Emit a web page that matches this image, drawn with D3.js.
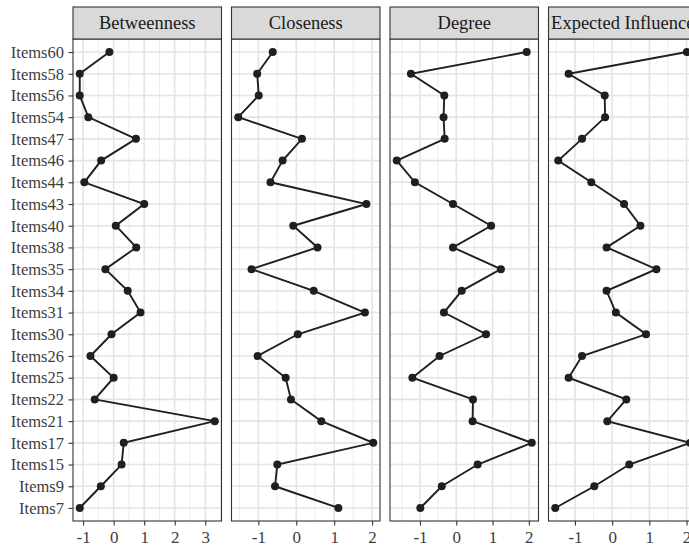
<!DOCTYPE html>
<html>
<head>
<meta charset="utf-8">
<script src="https://cdn.jsdelivr.net/npm/d3@7"></script>
<style>
  html, body { margin: 0; padding: 0; background: #fff; }
  svg { display: block; }
  text { font-family: "Liberation Serif", "DejaVu Serif", serif; }
</style>
</head>
<body>
<svg id="chart" width="689" height="547"></svg>
<script>
// Nodes, bottom to top as they appear on the y axis
const items = ["Items7", "Items9", "Items15", "Items17", "Items21", "Items22", "Items25",
  "Items26", "Items30", "Items31", "Items34", "Items35", "Items38", "Items40", "Items43",
  "Items44", "Items46", "Items47", "Items54", "Items56", "Items58", "Items60"];

const measures = ["Betweenness", "Closeness", "Degree", "Expected Influence"];

// Standardised centrality (z-scores), same order as items
const betweenness = [-1.11, -0.42, 0.26, 0.33, 3.31, -0.62, 0.00, -0.76, -0.07, 0.88, 0.46,
  -0.27, 0.74, 0.07, 1.00, -0.96, -0.41, 0.73, -0.83, -1.11, -1.11, -0.14];
const closeness = [1.11, -0.56, -0.50, 2.03, 0.66, -0.14, -0.28, -1.02, 0.04, 1.81, 0.46,
  -1.18, 0.56, -0.08, 1.85, -0.68, -0.36, 0.15, -1.53, -0.99, -1.03, -0.62];
const degree = [-0.99, -0.40, 0.59, 2.08, 0.45, 0.46, -1.21, -0.46, 0.82, -0.34, 0.15,
  1.23, -0.09, 0.96, -0.09, -1.14, -1.64, -0.32, -0.35, -0.33, -1.25, 1.94];
const expectedInfluence = [-1.53, -0.48, 0.46, 2.10, -0.13, 0.38, -1.17, -0.81, 0.91, 0.10,
  -0.15, 1.19, -0.15, 0.76, 0.32, -0.56, -1.45, -0.81, -0.19, -0.20, -1.17, 2.01];

const seriesValues = [betweenness, closeness, degree, expectedInfluence];

// Tick labels per facet
const xTicks = [[-1, 0, 1, 2, 3], [-1, 0, 1, 2], [-1, 0, 1, 2], [-1, 0, 1, 2]];

const svg = d3.select("#chart");

const panelLeft = 73, panelW = 148.5, panelGap = 10;
const panelTop = 39, panelBottom = 521, stripTop = 7;
const ink = "#1f1f1f", axisText = "#3d3d3d", frame = "#333";

const y = d3.scalePoint().domain(items).range([panelBottom, panelTop]).padding(0.6);

const defs = svg.append("defs");

measures.forEach((m, i) => {
  const x0 = panelLeft + i * (panelW + panelGap);
  const vals = seriesValues[i];
  const ext = d3.extent(vals);
  const pad = (ext[1] - ext[0]) * 0.05;
  const x = d3.scaleLinear().domain([ext[0] - pad, ext[1] + pad]).range([x0, x0 + panelW]);

  defs.append("clipPath").attr("id", "clip" + i)
    .append("rect").attr("x", x0).attr("y", panelTop).attr("width", panelW).attr("height", panelBottom - panelTop);

  const g = svg.append("g");

  g.append("rect").attr("x", x0).attr("y", panelTop).attr("width", panelW)
    .attr("height", panelBottom - panelTop).attr("fill", "#fff");

  // minor vertical grid at half-integers
  const lo = Math.ceil(x.domain()[0] * 2) / 2, hi = Math.floor(x.domain()[1] * 2) / 2;
  const minors = d3.range(lo, hi + 0.001, 0.5).filter(v => Math.abs(v % 1) > 0.1);
  g.selectAll(".minor").data(minors).join("line")
    .attr("x1", d => x(d)).attr("x2", d => x(d))
    .attr("y1", panelTop).attr("y2", panelBottom)
    .attr("stroke", "#ebebeb").attr("stroke-width", 0.9);

  // major vertical grid
  g.selectAll(".majorx").data(xTicks[i]).join("line")
    .attr("x1", d => x(d)).attr("x2", d => x(d))
    .attr("y1", panelTop).attr("y2", panelBottom)
    .attr("stroke", "#e4e4e4").attr("stroke-width", 1.6);

  // horizontal grid at each node
  g.selectAll(".majory").data(items).join("line")
    .attr("x1", x0).attr("x2", x0 + panelW)
    .attr("y1", d => y(d)).attr("y2", d => y(d))
    .attr("stroke", "#e4e4e4").attr("stroke-width", 1.6);

  // profile line + points
  const pts = items.map((it, k) => [x(vals[k]), y(it)]);
  const plot = g.append("g").attr("clip-path", `url(#clip${i})`);
  plot.append("path").attr("d", d3.line()(pts))
    .attr("fill", "none").attr("stroke", ink).attr("stroke-width", 1.9);
  plot.selectAll("circle").data(pts).join("circle")
    .attr("cx", d => d[0]).attr("cy", d => d[1]).attr("r", 4)
    .attr("fill", ink);

  // panel border
  g.append("rect").attr("x", x0).attr("y", panelTop).attr("width", panelW)
    .attr("height", panelBottom - panelTop).attr("fill", "none")
    .attr("stroke", frame).attr("stroke-width", 1.1);

  // strip
  g.append("rect").attr("x", x0).attr("y", stripTop).attr("width", panelW)
    .attr("height", panelTop - stripTop).attr("fill", "#d9d9d9")
    .attr("stroke", frame).attr("stroke-width", 1.1);
  g.append("text").attr("x", x0 + panelW / 2).attr("y", (stripTop + panelTop) / 2 + 6)
    .attr("text-anchor", "middle").attr("font-size", 18.5).attr("fill", "#1a1a1a")
    .text(m);

  // x axis
  const xa = svg.append("g").attr("transform", `translate(0,${panelBottom})`)
    .call(d3.axisBottom(x).tickValues(xTicks[i]).tickSize(4.5).tickPadding(5.5).tickFormat(d3.format("d")));
  xa.select(".domain").remove();
  xa.selectAll(".tick line").attr("stroke", frame).attr("stroke-width", 1.1);
  xa.selectAll(".tick text").attr("font-size", 17).attr("fill", axisText)
    .attr("font-family", "Liberation Serif, serif")
    .text(d => d < 0 ? "-" + Math.abs(d) : d);
});

// y axis on the first panel
const ya = svg.append("g").attr("transform", `translate(${panelLeft},0)`)
  .call(d3.axisLeft(y).tickSize(4.5).tickPadding(4.5));
ya.select(".domain").remove();
ya.selectAll(".tick line").attr("stroke", frame).attr("stroke-width", 1.1);
ya.selectAll(".tick text").attr("font-size", 16.5).attr("fill", axisText)
  .attr("font-family", "Liberation Serif, serif");
</script>
</body>
</html>
